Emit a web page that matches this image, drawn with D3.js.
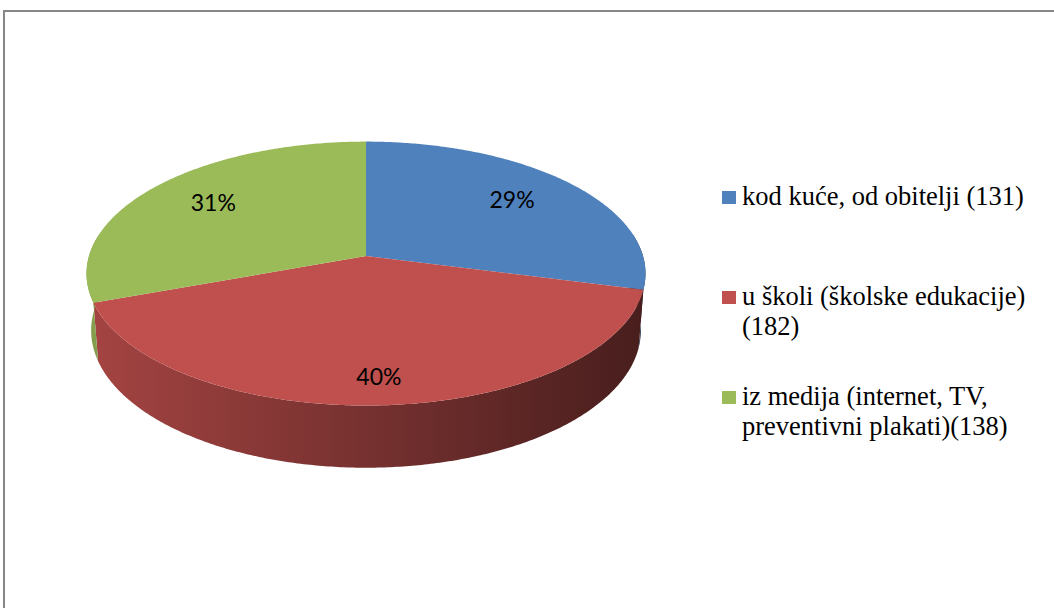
<!DOCTYPE html>
<html>
<head>
<meta charset="utf-8">
<script src="https://cdn.jsdelivr.net/npm/d3@7"></script>
<style>
  html, body { margin: 0; padding: 0; background: #fff; }
  svg { display: block; }
</style>
</head>
<body>
<svg id="chart" width="1054" height="608"></svg>
<script>
// data
const categories = [
    "kod kuće, od obitelji (131)",
    "u školi (školske edukacije) (182)",
    "iz medija (internet, TV, preventivni plakati)(138)"
];
const values = [131, 182, 138];
const colors = ["#4F81BD", "#C0504D", "#9BBB59"];

const width = 1054, height = 608;
const svg = d3.select("#chart");

// frame
svg.append("rect")
    .attr("x", 4).attr("y", 11)
    .attr("width", width + 20).attr("height", height + 20)
    .attr("fill", "none")
    .attr("stroke", "#878787")
    .attr("stroke-width", 2);

// 3d pie: disc tilted towards the viewer, seen with a bit of perspective
const cx = 366, cy = 256;
const K = 277;            // radius in px
const SIN = 0.468, COS = Math.sqrt(1 - SIN * SIN);
const D = 6.64;           // camera distance (radius units)
const T = 0.2345;         // thickness (radius units)

function proj(theta, r, h) {
    const x = r * Math.sin(theta), z = -r * Math.cos(theta);
    const yr = h * COS - z * SIN, zr = h * SIN + z * COS;
    const s = D / (D - zr);
    return [cx + K * x * s, cy - K * yr * s];
}

function arcPoints(a0, a1, r, h) {
    const n = Math.max(2, Math.ceil((a1 - a0) / 0.01));
    return d3.range(n + 1).map(i => proj(a0 + (a1 - a0) * i / n, r, h));
}

const pie = d3.pie().sort(null).startAngle(0).endAngle(2 * Math.PI);
const arcs = pie(values);
const line = d3.line();

// wall gradients, lighter on the left, dark on the right
const defs = svg.append("defs");
colors.forEach((c, i) => {
    const g = defs.append("linearGradient")
        .attr("id", "wall" + i)
        .attr("gradientUnits", "userSpaceOnUse")
        .attr("x1", cx - K).attr("x2", cx + K)
        .attr("y1", 0).attr("y2", 0);
    g.append("stop").attr("offset", 0).attr("stop-color", d3.color(c).darker(0.45));
    g.append("stop").attr("offset", 1).attr("stop-color", d3.color(c).darker(2.75));
});

// outer walls (front part only)
const front0 = 80 * Math.PI / 180, front1 = 280 * Math.PI / 180;
const walls = svg.append("g");
arcs.forEach((a, i) => {
    const a0 = Math.max(a.startAngle, front0), a1 = Math.min(a.endAngle, front1);
    if (a1 <= a0) return;
    const pts = arcPoints(a0, a1, 1, 0).concat(arcPoints(a0, a1, 1, -T).reverse());
    walls.append("path")
        .attr("d", line(pts) + "Z")
        .attr("fill", `url(#wall${i})`);
});

// top face
svg.append("g")
    .selectAll("path")
    .data(arcs)
    .join("path")
    .attr("d", a => line([proj(0, 0, 0)].concat(arcPoints(a.startAngle, a.endAngle, 1, 0))) + "Z")
    .attr("fill", (a, i) => colors[i]);

// percentage labels (slices on the near side sit a bit further out)
const total = d3.sum(values);
svg.append("g")
    .selectAll("text")
    .data(arcs)
    .join("text")
    .attr("transform", a => {
        const mid = (a.startAngle + a.endAngle) / 2;
        const r = 0.76 - 0.09 * Math.cos(mid);
        const p = proj(mid, r, 0);
        return `translate(${p[0]},${p[1]})`;
    })
    .attr("text-anchor", "middle")
    .attr("dy", "0.2em")
    .attr("font-family", "Lato, 'Open Sans', sans-serif")
    .attr("font-size", 23)
    .attr("fill", "#000")
    .text(a => Math.round(a.value / total * 100) + "%");

// legend
const legendX = 722, legendY = 205, rowStep = 100, lineH = 30, maxW = 296;
const legend = svg.append("g")
    .attr("font-family", "'Liberation Serif', 'DejaVu Serif', serif")
    .attr("font-size", 26.5);

categories.forEach((name, i) => {
    const y = legendY + i * rowStep;
    legend.append("rect")
        .attr("x", legendX).attr("y", y - 14)
        .attr("width", 14).attr("height", 13)
        .attr("fill", colors[i]);
    const text = legend.append("text").attr("x", legendX + 20).attr("y", y).attr("fill", "#000");
    // word wrap
    const words = name.split(" ");
    let cur = [], lineNo = 0;
    let tspan = text.append("tspan").attr("x", legendX + 20).attr("y", y);
    for (const w of words) {
        cur.push(w);
        tspan.text(cur.join(" "));
        if (tspan.node().getComputedTextLength() > maxW && cur.length > 1) {
            cur.pop();
            tspan.text(cur.join(" "));
            cur = [w];
            lineNo++;
            tspan = text.append("tspan").attr("x", legendX + 20).attr("y", y + lineNo * lineH).text(w);
        }
    }
});
</script>
</body>
</html>
